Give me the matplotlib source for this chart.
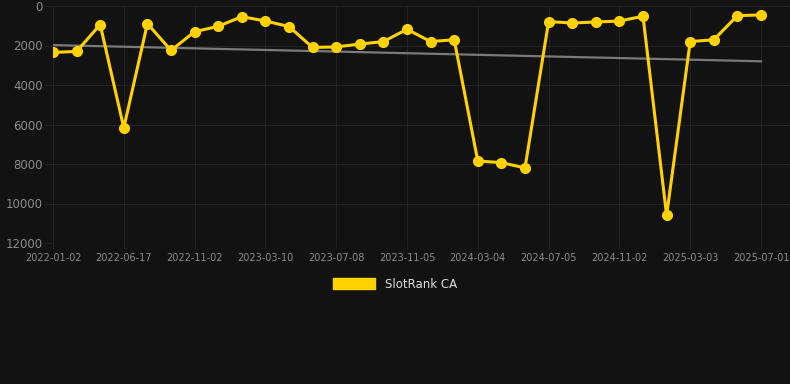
import numpy as np
import matplotlib
matplotlib.use('Agg')
import matplotlib.pyplot as plt

# rank values, one per period (lower is better, axis inverted)
ranks = [2350, 2300, 940, 6170, 890, 2250, 1300, 1030, 540, 760,
         1040, 2100, 2070, 1930, 1800, 1180, 1800, 1710, 7850, 7930,
         8200, 790, 860, 810, 760, 520, 10600, 1800, 1710, 490, 450]
tick_labels = ['2022-01-02', '2022-06-17', '2022-11-02', '2023-03-10',
               '2023-07-08', '2023-11-05', '2024-03-04', '2024-07-05',
               '2024-11-02', '2025-03-03', '2025-07-01']
trend = [1980, 2800]   # start / end of the trend line

bg = '#121212'
yellow = '#FFD200'
grid = '#222222'

x = np.arange(len(ranks))
step = (761 - 53) / (len(ranks) - 1)   # px per point

fig = plt.figure(figsize=(7.9, 3.84), dpi=100, facecolor=bg)
ax = fig.add_axes([53 / 790, 1 - 243 / 384, (790 - 53) / 790, (243 - 6) / 384])
ax.set_facecolor(bg)

ax.plot([x[0], x[-1]], trend, color='#7a7a7a', lw=1.6, zorder=2)
ax.plot(x, ranks, color=yellow, lw=2.2, marker='o', ms=7,
        markerfacecolor=yellow, markeredgecolor=yellow, zorder=3,
        label='SlotRank CA')

ax.set_xlim(0, (790 - 53) / step)
ax.set_ylim(12000, 0)
ax.set_yticks(np.arange(0, 12001, 2000))
ax.set_xticks(x[::3])
ax.set_xticklabels(tick_labels)

ax.grid(True, color=grid, lw=0.8)
ax.set_axisbelow(True)
for s in ax.spines.values():
    s.set_visible(False)
ax.tick_params(axis='y', colors=grid, labelcolor='#8c8c8c', labelsize=8.5,
               length=6.5, width=0.8, pad=1)
ax.tick_params(axis='x', colors=grid, labelcolor='#8c8c8c', labelsize=7,
               length=4, width=0.8, pad=3)

leg = fig.legend(handles=[plt.Rectangle((0, 0), 1, 1, color=yellow)],
                 labels=['SlotRank CA'], loc='center',
                 bbox_to_anchor=(0.5, 1 - 284 / 384), frameon=False,
                 handlelength=3.6, handleheight=1.0, fontsize=8.5,
                 labelcolor='#dddddd')

fig.savefig('out.png', dpi=100, facecolor=bg)
